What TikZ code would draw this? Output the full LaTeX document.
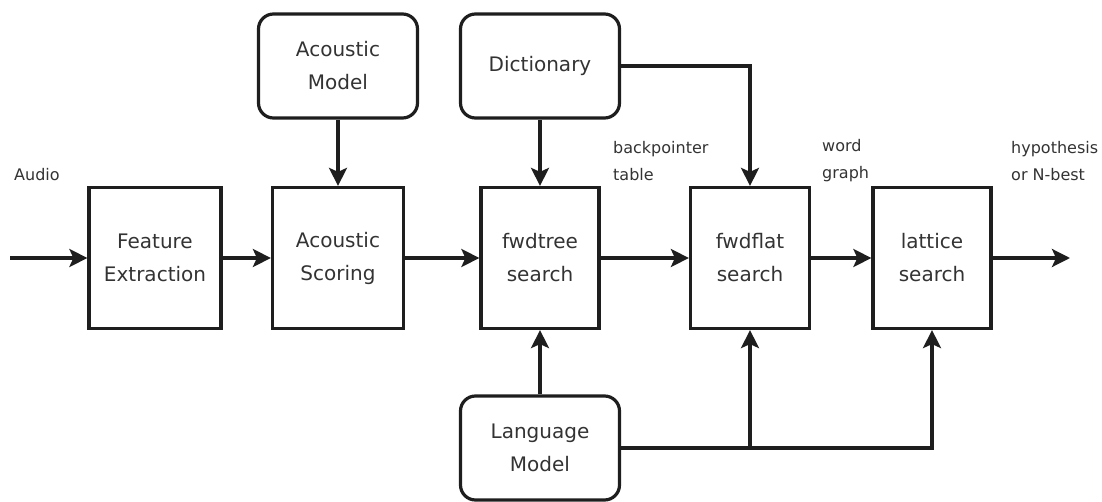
\documentclass[tikz,border=0pt]{standalone}
\usepackage{fontspec}
\setmainfont{DejaVu Sans}
\usetikzlibrary{arrows.meta}
\definecolor{ink}{HTML}{1E1E1E}
\definecolor{txt}{HTML}{333333}
\begin{document}
\begin{tikzpicture}[x=1pt,y=-1pt,
  box/.style={draw=ink, text=txt, line width=3.2pt, minimum height=141pt, inner sep=0pt,
    align=center, font=\fontsize{20}{33}\selectfont},
  store/.style={box, rounded corners=15pt, minimum width=159pt, minimum height=104pt},
  flow/.style={draw=ink, line width=3.2pt, -{Stealth[length=18pt,width=18pt,inset=4pt]}},
  lbl/.style={text=txt, font=\fontsize{16}{27}\selectfont, align=left, anchor=west, inner sep=0pt}]
\useasboundingbox (0,0) rectangle (1102,502);

% processing stages
\node[box, minimum width=132pt] (fe) at (155,258) {Feature\\Extraction};
\node[box, minimum width=131pt] (as) at (338,258) {Acoustic\\Scoring};
\node[box, minimum width=118pt] (ft) at (540,258) {fwdtree\\search};
\node[box, minimum width=119pt] (ff) at (750,258) {fwdflat\\search};
\node[box, minimum width=118pt] (ls) at (932,258) {lattice\\search};

% knowledge sources
\node[store] (am) at (338,66) {Acoustic\\Model};
\node[store] (dict) at (540,66) {Dictionary};
\node[store] (lm) at (540,448) {Language\\Model};

% signal ends
\coordinate (in) at (10,258);
\coordinate (out) at (1070,258);

% data labels
\node[lbl] (audio) at (14,175) {Audio};
\node[lbl] (bp) at (613,161) {backpointer\\table};
\node[lbl] (wg) at (822,161) {word\\graph};
\node[lbl] (hyp) at (1011,161) {hypothesis\\or N-best};

% main pipeline
\draw[flow] (in) -- (fe);
\draw[flow] (fe) -- (as);
\draw[flow] (as) -- (ft);
\draw[flow] (ft) -- (ff);
\draw[flow] (ff) -- (ls);
\draw[flow] (ls) -- (out);

% model inputs
\draw[flow] (am) -- (as);
\draw[flow] (dict) -- (ft);
\draw[flow] (lm) -- (ft);
\draw[flow] (dict.east) -| (ff.north);
\draw[flow] (lm.east) -| (ls.south);
\draw[flow] (lm.east -| ff.south) -- (ff.south);
\end{tikzpicture}
\end{document}
